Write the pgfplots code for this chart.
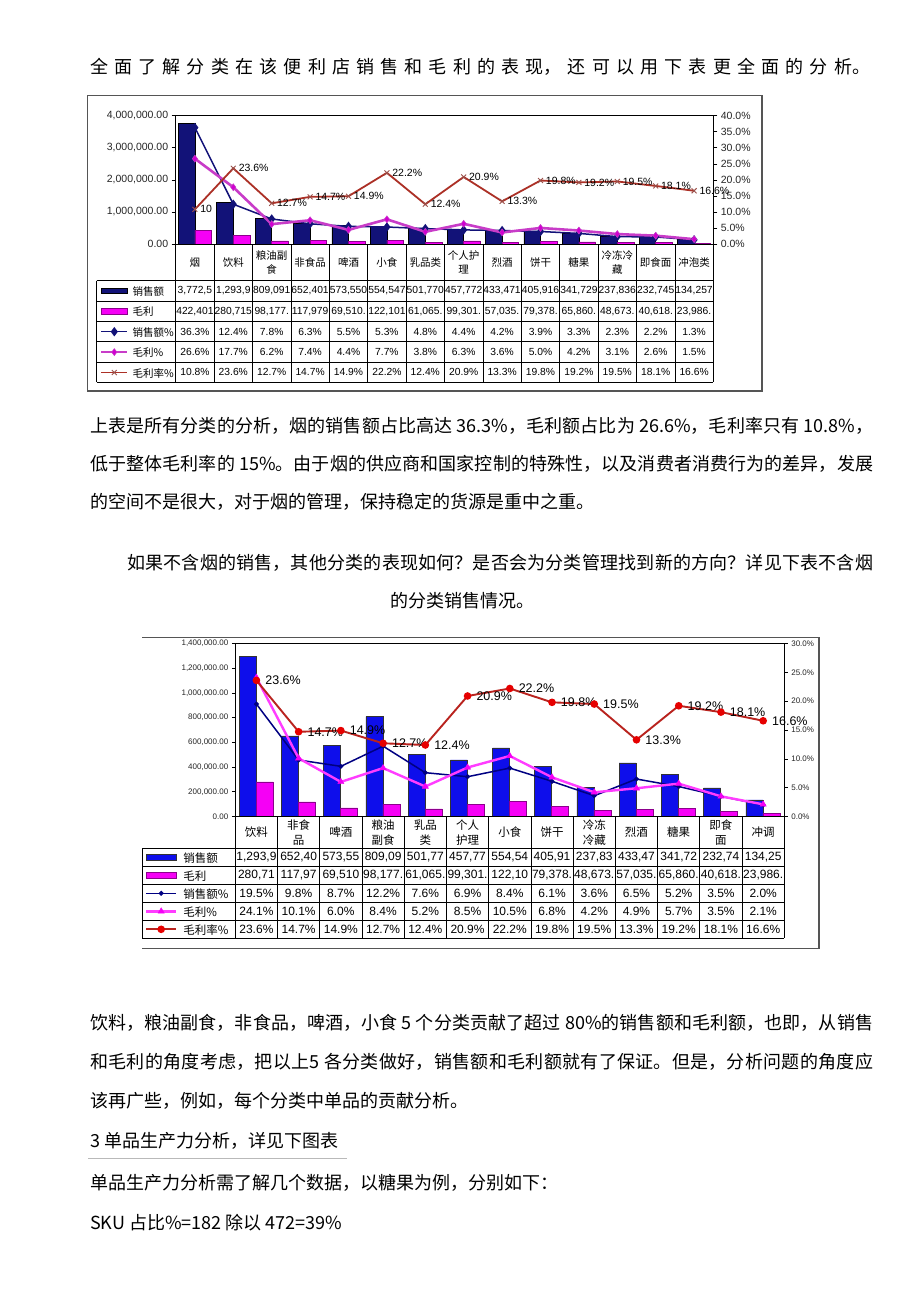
\documentclass[border=0pt]{standalone}
\usepackage{pgfplots}
\pgfplotsset{compat=1.18}
\usepackage{fontspec}
\setmainfont{Noto Sans CJK SC}
\newfontfamily\arial{Liberation Sans}
\XeTeXlinebreaklocale "zh"
\XeTeXlinebreakskip=0pt plus 2pt minus 0.5pt

\definecolor{navyA}{RGB}{18,18,120}
\definecolor{magA}{RGB}{245,0,245}
\definecolor{magAd}{RGB}{140,0,140}
\definecolor{violA}{RGB}{200,60,200}
\definecolor{redA}{RGB}{172,48,38}
\definecolor{blueB}{RGB}{14,14,235}
\definecolor{navyB}{RGB}{0,0,130}
\definecolor{magB}{RGB}{255,60,255}
\definecolor{redB}{RGB}{185,35,30}
\definecolor{redBm}{RGB}{230,0,0}
\definecolor{frameG}{RGB}{85,85,85}

\newcommand\bodyfont{\fontsize{18}{22}\selectfont}
\newcommand\jline[4]{\node[anchor=base west,inner sep=0pt] at (#1,-#2) {\parbox[b]{#3pt}{\bodyfont\parfillskip=0pt\relax\emergencystretch=20pt\noindent #4}};}
\newcommand\nline[3]{\node[anchor=base west,inner sep=0pt] at (#1,-#2) {\bodyfont #3};}
\newcommand\trow[5]{\foreach \lab [count=\ii from 0] in {#5} {\node[font=#4,inner sep=0pt,align=center] at ({#1+#2*\ii+#2/2},-#3) {\lab};}}

\begin{document}
\begin{tikzpicture}[x=1pt,y=1pt]
\fill[white] (0,0) rectangle (920,-1302);

% ---------------- body text ----------------
\jline{90}{73.5}{780}{全面了解分类在该便利店销售和毛利的表现，还可以用下表更全面的分析。}
\jline{90}{432}{783}{上表是所有分类的分析，烟的销售额占比高达 36.3\%，毛利额占比为 26.6\%，毛利率只有 10.8\%，}
\jline{90}{470}{783}{低于整体毛利率的 15\%。由于烟的供应商和国家控制的特殊性，以及消费者消费行为的差异，发展}
\nline{90}{508}{的空间不是很大，对于烟的管理，保持稳定的货源是重中之重。}
\jline{127}{569}{746}{如果不含烟的销售，其他分类的表现如何？是否会为分类管理找到新的方向？详见下表不含烟}
\node[anchor=base,inner sep=0pt] at (462,-607) {\bodyfont 的分类销售情况。};
\jline{90}{1029}{783}{饮料，粮油副食，非食品，啤酒，小食 5 个分类贡献了超过 80\%的销售额和毛利额，也即，从销售}
\jline{90}{1068}{783}{和毛利的角度考虑，把以上5 各分类做好，销售额和毛利额就有了保证。但是，分析问题的角度应}
\nline{90}{1107}{该再广些，例如，每个分类中单品的贡献分析。}
\nline{90}{1147}{3 单品生产力分析，详见下图表}
\draw[gray!55,line width=0.6pt] (88,-1158) -- (347,-1158);
\nline{90}{1189}{单品生产力分析需了解几个数据，以糖果为例，分别如下：}
\nline{90}{1229}{SKU 占比\%=182 除以 472=39\%}

% ---------------- chart 1 ----------------
\draw[frameG,line width=1.3pt] (87.5,-95.5) rectangle (762,-391);
\begin{axis}[at={(175.7pt,-244pt)},anchor=south west,scale only axis,
  width=537.6pt,height=128.3pt,
  xmin=-0.5,xmax=13.5,ymin=0,ymax=4000000,
  axis line style={black,line width=0.7pt},
  x axis line style={gray!70},
  xtick=\empty,ytick pos=left,tick align=outside,major tick length=4pt,
  scaled y ticks=false,
  ytick={0,1000000,2000000,3000000,4000000},
  yticklabels={{0.00},{1,000,000.00},{2,000,000.00},{3,000,000.00},{4,000,000.00}},
  yticklabel style={font=\arial\fontsize{10.5}{12}\selectfont,text=black!85},
  tick style={black,line width=0.6pt},
  clip=false]
\addplot[ybar,bar width=16.6pt,bar shift=-8.3pt,fill=navyA,draw=black,line width=0.5pt] coordinates {(0,3772500) (1,1293950) (2,809091) (3,652401) (4,573550) (5,554547) (6,501770) (7,457772) (8,433471) (9,405916) (10,341729) (11,237836) (12,232745) (13,134257)};
\addplot[ybar,bar width=16.6pt,bar shift=8.3pt,fill=magA,draw=magAd,line width=0.6pt] coordinates {(0,422401) (1,280715) (2,98177) (3,117979) (4,69510) (5,122101) (6,61065) (7,99301) (8,57035) (9,79378) (10,65860) (11,48673) (12,40618) (13,23986)};
\end{axis}
\begin{axis}[at={(175.7pt,-244pt)},anchor=south west,scale only axis,
  width=537.6pt,height=128.3pt,
  xmin=-0.5,xmax=13.5,ymin=0,ymax=40,
  axis line style={draw=none},
  xtick=\empty,ytick pos=right,yticklabel pos=right,tick align=outside,major tick length=4pt,
  ytick={0,5,10,15,20,25,30,35,40},
  yticklabels={0.0\%,5.0\%,10.0\%,15.0\%,20.0\%,25.0\%,30.0\%,35.0\%,40.0\%},
  yticklabel style={font=\arial\fontsize{10.5}{12}\selectfont,text=black!85},
  tick style={black,line width=0.6pt},
  clip=false,
  legend style={at={(axis description cs:-0.1408,-0.2861)},anchor=north west,draw=none,fill=none,
    inner sep=0pt,outer sep=0pt,row sep=0pt,column sep=4pt,font=\fontsize{10.5}{12}\selectfont,
    nodes={inner sep=0pt,text height=14.8pt,text depth=5.6pt,anchor=base west}},
  legend cell align=left,
  legend image code/.code={\draw[mark repeat=2,mark phase=2,#1] plot coordinates {(0pt,4.6pt) (13pt,4.6pt) (26pt,4.6pt)};},
]
\addlegendimage{legend image code/.code={\draw[fill=navyA,draw=black,line width=0.5pt] (0pt,1.8pt) rectangle (26pt,7.4pt);}}
\addlegendimage{legend image code/.code={\draw[fill=magA,draw=magAd,line width=0.6pt] (0pt,1.8pt) rectangle (26pt,7.4pt);}}
\addplot[navyA,line width=1.5pt,mark=diamond*,mark size=3.5pt] coordinates {(0,36.3) (1,12.4) (2,7.8) (3,6.3) (4,5.5) (5,5.3) (6,4.8) (7,4.4) (8,4.2) (9,3.9) (10,3.3) (11,2.3) (12,2.2) (13,1.3)};
\addplot[violA,line width=2.6pt,mark=diamond*,mark size=3.5pt,mark options={fill=magA!85!black,draw=violA,line width=0.5pt}] coordinates {(0,26.6) (1,17.7) (2,6.2) (3,7.4) (4,4.4) (5,7.7) (6,3.8) (7,6.3) (8,3.6) (9,5.0) (10,4.2) (11,3.1) (12,2.6) (13,1.5)};
\addplot[redA,line width=1.8pt,mark=x,mark size=3.5pt,mark options={line width=0.9pt,draw=redA!60!gray},
  nodes near coords,point meta=explicit symbolic,
  every node near coord/.append style={anchor=west,xshift=4pt,font=\arial\fontsize{10.5}{12}\selectfont,text=black,inner sep=1pt}]
  coordinates {(0,10.8) [10] (1,23.6) [23.6\%] (2,12.7) [12.7\%] (3,14.7) [14.7\%] (4,14.9) [14.9\%] (5,22.2) [22.2\%] (6,12.4) [12.4\%] (7,20.9) [20.9\%] (8,13.3) [13.3\%] (9,19.8) [19.8\%] (10,19.2) [19.2\%] (11,19.5) [19.5\%] (12,18.1) [18.1\%] (13,16.6) [16.6\%]};
\legend{销售额,毛利,销售额\%,毛利\%,毛利率\%}
\end{axis}
% table 1
\begin{scope}[line width=0.7pt]
\foreach \i in {0,...,14} \draw ({175.7+38.4*\i},-244) -- ({175.7+38.4*\i},-382.4);
\draw (96.7,-280.7) -- (96.7,-382.4);
\draw (175.7,-244) -- (713.3,-244);
\foreach \j in {0,...,5} \draw (96.7,{-280.7-20.34*\j}) -- (713.3,{-280.7-20.34*\j});
\end{scope}
\trow{175.7}{38.4}{262.4}{\fontsize{10.5}{14}\selectfont}{烟,饮料,{粮油副\\食},非食品,啤酒,小食,乳品类,{个人护\\理},烈酒,饼干,糖果,{冷冻冷\\藏},即食面,冲泡类}
\trow{175.7}{38.4}{290.9}{\arial\fontsize{10.3}{12}\selectfont}{{3,772,5},{1,293,9},{809,091},{652,401},{573,550},{554,547},{501,770},{457,772},{433,471},{405,916},{341,729},{237,836},{232,745},{134,257}}
\trow{175.7}{38.4}{311.2}{\arial\fontsize{10.3}{12}\selectfont}{{422,401},{280,715},{98,177.},{117,979},{69,510.},{122,101},{61,065.},{99,301.},{57,035.},{79,378.},{65,860.},{48,673.},{40,618.},{23,986.}}
\trow{175.7}{38.4}{331.6}{\arial\fontsize{10.3}{12}\selectfont}{36.3\%,12.4\%,7.8\%,6.3\%,5.5\%,5.3\%,4.8\%,4.4\%,4.2\%,3.9\%,3.3\%,2.3\%,2.2\%,1.3\%}
\trow{175.7}{38.4}{351.9}{\arial\fontsize{10.3}{12}\selectfont}{26.6\%,17.7\%,6.2\%,7.4\%,4.4\%,7.7\%,3.8\%,6.3\%,3.6\%,5.0\%,4.2\%,3.1\%,2.6\%,1.5\%}
\trow{175.7}{38.4}{372.2}{\arial\fontsize{10.3}{12}\selectfont}{10.8\%,23.6\%,12.7\%,14.7\%,14.9\%,22.2\%,12.4\%,20.9\%,13.3\%,19.8\%,19.2\%,19.5\%,18.1\%,16.6\%}

% ---------------- chart 2 ----------------
\draw[frameG,line width=1.3pt] (142,-637.7) -- (819,-637.7) -- (819,-948.3) -- (142,-948.3);
\begin{axis}[at={(235.3pt,-816.5pt)},anchor=south west,scale only axis,
  width=549pt,height=173pt,
  xmin=-0.5,xmax=12.5,ymin=0,ymax=1400000,
  axis line style={black,line width=0.7pt},
  x axis line style={gray!70},
  xtick=\empty,ytick pos=left,tick align=outside,major tick length=3.5pt,
  scaled y ticks=false,
  ytick={0,200000,400000,600000,800000,1000000,1200000,1400000},
  yticklabels={{0.00},{200,000.00},{400,000.00},{600,000.00},{800,000.00},{1,000,000.00},{1,200,000.00},{1,400,000.00}},
  yticklabel style={font=\arial\fontsize{8}{9}\selectfont,text=black!85},
  tick style={black,line width=0.6pt},
  clip=false]
\addplot[ybar,bar width=17pt,bar shift=-8.8pt,fill=blueB,draw=black!80,line width=0.5pt] coordinates {(0,1293950) (1,652405) (2,573555) (3,809095) (4,501775) (5,457775) (6,554545) (7,405915) (8,237835) (9,433475) (10,341725) (11,232745) (12,134255)};
\addplot[ybar,bar width=17pt,bar shift=8.2pt,fill=magA,draw=magAd,line width=0.6pt] coordinates {(0,280715) (1,117975) (2,69510) (3,98177) (4,61065) (5,99301) (6,122105) (7,79378) (8,48673) (9,57035) (10,65860) (11,40618) (12,23986)};
\end{axis}
\begin{axis}[at={(235.3pt,-816.5pt)},anchor=south west,scale only axis,
  width=549pt,height=173pt,
  xmin=-0.5,xmax=12.5,ymin=0,ymax=30,
  axis line style={draw=none},
  xtick=\empty,ytick pos=right,yticklabel pos=right,tick align=outside,major tick length=3.5pt,
  ytick={0,5,10,15,20,25,30},
  yticklabels={0.0\%,5.0\%,10.0\%,15.0\%,20.0\%,25.0\%,30.0\%},
  yticklabel style={font=\arial\fontsize{8}{9}\selectfont,text=black!85},
  tick style={black,line width=0.6pt},
  clip=false,
  legend style={at={(axis description cs:-0.1645,-0.1838)},anchor=north west,draw=none,fill=none,
    inner sep=0pt,outer sep=0pt,row sep=0pt,column sep=6pt,font=\fontsize{11.5}{13}\selectfont,
    nodes={inner sep=0pt,text height=13.75pt,text depth=4.25pt,anchor=base west}},
  legend cell align=left,
  legend image code/.code={\draw[mark repeat=2,mark phase=2,#1] plot coordinates {(0pt,4.75pt) (15pt,4.75pt) (30pt,4.75pt)};},
]
\addlegendimage{legend image code/.code={\draw[fill=blueB,draw=black!80,line width=0.5pt] (0pt,1.75pt) rectangle (30pt,7.75pt);}}
\addlegendimage{legend image code/.code={\draw[fill=magA,draw=magAd,line width=0.6pt] (0pt,1.75pt) rectangle (30pt,7.75pt);}}
\addplot[navyB,line width=1.5pt,mark=*,mark size=1.6pt] coordinates {(0,19.5) (1,9.8) (2,8.7) (3,12.2) (4,7.6) (5,6.9) (6,8.4) (7,6.1) (8,3.6) (9,6.5) (10,5.2) (11,3.5) (12,2.0)};
\addplot[magB,line width=2.4pt,mark=triangle*,mark size=3.6pt,mark options={fill=magA,draw=magA,line width=0.4pt}] coordinates {(0,24.1) (1,10.1) (2,6.0) (3,8.4) (4,5.2) (5,8.5) (6,10.5) (7,6.8) (8,4.2) (9,4.9) (10,5.7) (11,3.5) (12,2.1)};
\addplot[redB,line width=1.9pt,mark=*,mark size=2.8pt,mark options={fill=redBm,draw=redBm},
  nodes near coords,point meta=explicit symbolic,
  every node near coord/.append style={anchor=west,xshift=7pt,font=\arial\fontsize{12.5}{14}\selectfont,text=black,inner sep=1pt}]
  coordinates {(0,23.6) [23.6\%] (1,14.7) [14.7\%] (2,14.9) [14.9\%] (3,12.7) [12.7\%] (4,12.4) [12.4\%] (5,20.9) [20.9\%] (6,22.2) [22.2\%] (7,19.8) [19.8\%] (8,19.5) [19.5\%] (9,13.3) [13.3\%] (10,19.2) [19.2\%] (11,18.1) [18.1\%] (12,16.6) [16.6\%]};
\legend{销售额,毛利,销售额\%,毛利\%,毛利率\%}
\end{axis}
% table 2
\begin{scope}[line width=0.8pt]
\foreach \i in {0,...,13} \draw ({235.3+42.23*\i},-816.5) -- ({235.3+42.23*\i},-938.3);
\draw (142.3,-848.3) -- (142.3,-938.3);
\draw (235.3,-816.5) -- (784.3,-816.5);
\foreach \j in {0,...,5} \draw (142.3,{-848.3-18*\j}) -- (784.3,{-848.3-18*\j});
\end{scope}
\trow{235.3}{42.23}{832.4}{\fontsize{11.5}{14.5}\selectfont}{饮料,{非食\\品},啤酒,{粮油\\副食},{乳品\\类},{个人\\护理},小食,饼干,{冷冻\\冷藏},烈酒,糖果,{即食\\面},冲调}
\trow{235.3}{42.23}{857.3}{\arial\fontsize{12}{14}\selectfont}{{1,293,9},{652,40},{573,55},{809,09},{501,77},{457,77},{554,54},{405,91},{237,83},{433,47},{341,72},{232,74},{134,25}}
\trow{235.3}{42.23}{875.3}{\arial\fontsize{12}{14}\selectfont}{{280,71},{117,97},{69,510},{98,177.},{61,065.},{99,301.},{122,10},{79,378.},{48,673.},{57,035.},{65,860.},{40,618.},{23,986.}}
\trow{235.3}{42.23}{893.3}{\arial\fontsize{12}{14}\selectfont}{19.5\%,9.8\%,8.7\%,12.2\%,7.6\%,6.9\%,8.4\%,6.1\%,3.6\%,6.5\%,5.2\%,3.5\%,2.0\%}
\trow{235.3}{42.23}{911.3}{\arial\fontsize{12}{14}\selectfont}{24.1\%,10.1\%,6.0\%,8.4\%,5.2\%,8.5\%,10.5\%,6.8\%,4.2\%,4.9\%,5.7\%,3.5\%,2.1\%}
\trow{235.3}{42.23}{929.3}{\arial\fontsize{12}{14}\selectfont}{23.6\%,14.7\%,14.9\%,12.7\%,12.4\%,20.9\%,22.2\%,19.8\%,19.5\%,13.3\%,19.2\%,18.1\%,16.6\%}
\end{tikzpicture}
\end{document}
